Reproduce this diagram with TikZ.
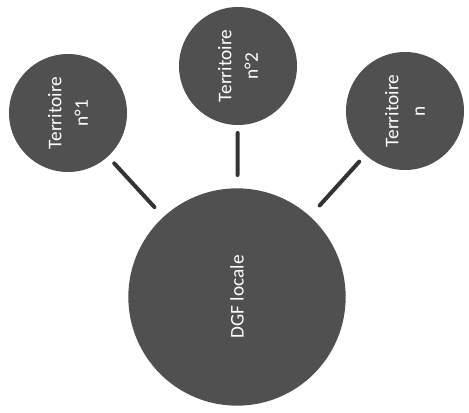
\documentclass[tikz,border=0pt]{standalone}
\usepackage{fontspec}
\setmainfont{Carlito}
\usepackage{tikz}
\usetikzlibrary{positioning}
\definecolor{disc}{HTML}{505050}
\definecolor{link}{HTML}{333333}

\begin{document}
\begin{tikzpicture}[x=0.75pt, y=-0.75pt,
    territoire/.style={circle, fill=disc, inner sep=0pt, outer sep=0pt, minimum size=88.5pt,
      text=white, align=center, rotate=90, font=\fontsize{14.5}{20}\selectfont},
    centre/.style={territoire, minimum size=163pt},
    lien/.style={link, line width=3pt, line cap=round, shorten <=7pt, shorten >=10pt}]
  \useasboundingbox (0,0) rectangle (469,413);

  % Territoires
  \node[territoire] (t1) at (68,113) {Territoire\\n°1};
  \node[territoire] (t2) at (238,66) {Territoire\\n°2};
  \node[territoire] (t3) at (405,111) {Territoire\\n};

  % DGF locale
  \node[centre] (dgf) at (237,297) {DGF locale};

  % Liens
  \draw[lien] (t1) -- (dgf);
  \draw[lien, shorten <=6pt] (t2) -- (dgf);
  \draw[lien, shorten >=11pt] (t3) -- (dgf);
\end{tikzpicture}
\end{document}
